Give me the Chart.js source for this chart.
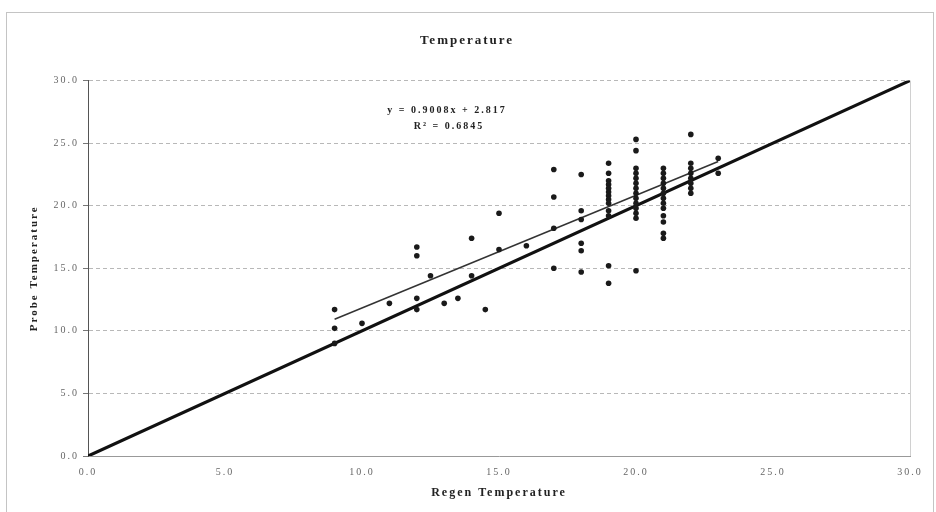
<!DOCTYPE html>
<html lang="en">
<head>
<meta charset="UTF-8" />
<title>Temperature</title>
<script src="https://cdn.jsdelivr.net/npm/chart.js"></script>
<style>
  html, body { margin: 0; padding: 0; background: #fff; }
  canvas { display: block; }
</style>
</head>
<body>
<canvas id="chart" width="936" height="512"></canvas>
<script>
// paired readings: regen sensor vs probe
const regenTemp = [
  9, 9, 9, 10, 11,
  12, 12, 12, 12, 12.5, 13, 13.5, 14, 14, 14.5, 15, 15, 16,
  17, 17, 17, 17,
  18, 18, 18, 18, 18, 18,
  19, 19, 19, 19, 19, 19, 19, 19, 19, 19, 19, 19, 19,
  20, 20, 20, 20, 20, 20, 20, 20, 20, 20, 20, 20, 20, 20,
  21, 21, 21, 21, 21, 21, 21, 21, 21, 21, 21, 21, 21,
  22, 22, 22, 22, 22, 22, 22, 22,
  23, 23
];
const probeTemp = [
  11.7, 10.2, 9.0, 10.6, 12.2,
  16.7, 16.0, 12.6, 11.7, 14.4, 12.2, 12.6, 17.4, 14.4, 11.7, 19.4, 16.5, 16.8,
  22.9, 20.7, 18.2, 15.0,
  22.5, 19.6, 18.9, 17.0, 16.4, 14.7,
  23.4, 22.6, 22.0, 21.7, 21.4, 21.1, 20.8, 20.5, 20.2, 19.6, 19.2, 15.2, 13.8,
  25.3, 24.4, 23.0, 22.6, 22.2, 21.8, 21.4, 21.0, 20.6, 20.2, 19.8, 19.4, 19.0, 14.8,
  23.0, 22.6, 22.2, 21.8, 21.4, 21.0, 20.6, 20.2, 19.8, 19.2, 18.7, 17.8, 17.4,
  25.7, 23.4, 23.0, 22.6, 22.2, 21.8, 21.4, 21.0,
  23.8, 22.6
];
const tickLabels = ["0.0", "5.0", "10.0", "15.0", "20.0", "25.0", "30.0"];

// linear fit reported for the data
const slope = 0.9008;
const intercept = 2.817;
const rSquared = 0.6845;

const points = regenTemp.map((x, i) => ({ x: x, y: probeTemp[i] }));
const xMin = Math.min(...regenTemp);
const xMax = Math.max(...regenTemp);
const trend = [
  { x: xMin, y: slope * xMin + intercept },
  { x: xMax, y: slope * xMax + intercept }
];
const identity = [{ x: 0, y: 0 }, { x: 30, y: 30 }];

const serif = "'Liberation Serif', 'Times New Roman', serif";

// wide-set lettering, applied before measuring and before drawing
const spacing = {
  id: 'spacing',
  beforeUpdate(chart) { chart.ctx.letterSpacing = '2px'; },
  beforeLayout(chart) { chart.ctx.letterSpacing = '2px'; },
  beforeDraw(chart) { chart.ctx.letterSpacing = '2px'; }
};

const frame = {
  id: 'frame',
  beforeDraw(chart) {
    const ctx = chart.ctx;
    const a = chart.chartArea;
    ctx.save();
    ctx.fillStyle = '#fff';
    ctx.fillRect(0, 0, chart.width, chart.height);
    ctx.strokeStyle = '#c4c4c4';
    ctx.lineWidth = 1;
    ctx.strokeRect(6.5, 12.5, 927, 510);
    // right edge of plot area
    ctx.strokeStyle = '#d0d0d0';
    ctx.beginPath();
    ctx.moveTo(Math.round(a.right) + 0.5, a.top);
    ctx.lineTo(Math.round(a.right) + 0.5, a.bottom);
    ctx.stroke();
    ctx.restore();
  },
  afterDatasetsDraw(chart) {
    const ctx = chart.ctx;
    const xs = chart.scales.x, ys = chart.scales.y;
    const cx = xs.getPixelForValue(13.1);
    ctx.save();
    ctx.fillStyle = '#222';
    ctx.font = 'bold 10px ' + serif;
    ctx.textAlign = 'center';
    ctx.textBaseline = 'middle';
    ctx.fillText('y = ' + slope.toFixed(4) + 'x + ' + intercept.toFixed(3), cx, ys.getPixelForValue(27.6));
    ctx.fillText('R\u00B2 = ' + rSquared.toFixed(4), cx + 2, ys.getPixelForValue(26.3));
    ctx.restore();
  }
};

new Chart(document.getElementById('chart'), {
  type: 'scatter',
  data: {
    datasets: [
      {
        label: 'Probe vs Regen',
        data: points,
        backgroundColor: '#1a1a1a',
        borderColor: '#1a1a1a',
        pointRadius: 2.8,
        pointBorderWidth: 0
      },
      {
        label: 'Linear fit',
        data: trend,
        showLine: true,
        borderColor: '#333',
        borderWidth: 1.5,
        pointRadius: 0
      },
      {
        label: 'y = x',
        data: identity,
        showLine: true,
        borderColor: '#111',
        borderWidth: 3.2,
        pointRadius: 0
      }
    ]
  },
  options: {
    responsive: false,
    animation: false,
    layout: { padding: { left: 24, right: 26, top: 0, bottom: 8 } },
    plugins: {
      legend: { display: false },
      tooltip: { enabled: false },
      title: {
        display: true,
        text: 'Temperature',
        color: '#222',
        font: { family: serif, size: 13, weight: 'bold' },
        padding: { top: 33, bottom: 32 }
      }
    },
    scales: {
      x: {
        type: 'linear',
        min: 0,
        max: 30,
        afterFit(scale) { scale.height = 48; },
        ticks: {
          stepSize: 5,
          color: '#666',
          padding: 2,
          font: { family: serif, size: 10 },
          callback: (v, i) => tickLabels[i]
        },
        grid: { display: false },
        border: { display: true, color: '#999', width: 1 },
        title: {
          display: true,
          text: 'Regen Temperature',
          color: '#222',
          font: { family: serif, size: 12, weight: 'bold' },
          padding: { top: 4, bottom: 4 }
        }
      },
      y: {
        type: 'linear',
        min: 0,
        max: 30,
        afterFit(scale) { scale.width = 64; },
        ticks: {
          stepSize: 5,
          color: '#666',
          padding: 4,
          font: { family: serif, size: 10 },
          callback: (v, i) => tickLabels[i]
        },
        grid: {
          color: '#b8b8b8',
          lineWidth: 1,
          tickLength: 5,
          tickColor: '#777',
          tickBorderDash: []
        },
        border: { display: true, color: '#555', width: 1, dash: [4, 3] },
        title: {
          display: true,
          text: 'Probe Temperature',
          color: '#222',
          font: { family: serif, size: 11, weight: 'bold' },
          padding: { top: 4, bottom: 4 }
        }
      }
    }
  },
  plugins: [spacing, frame]
});
</script>
</body>
</html>
